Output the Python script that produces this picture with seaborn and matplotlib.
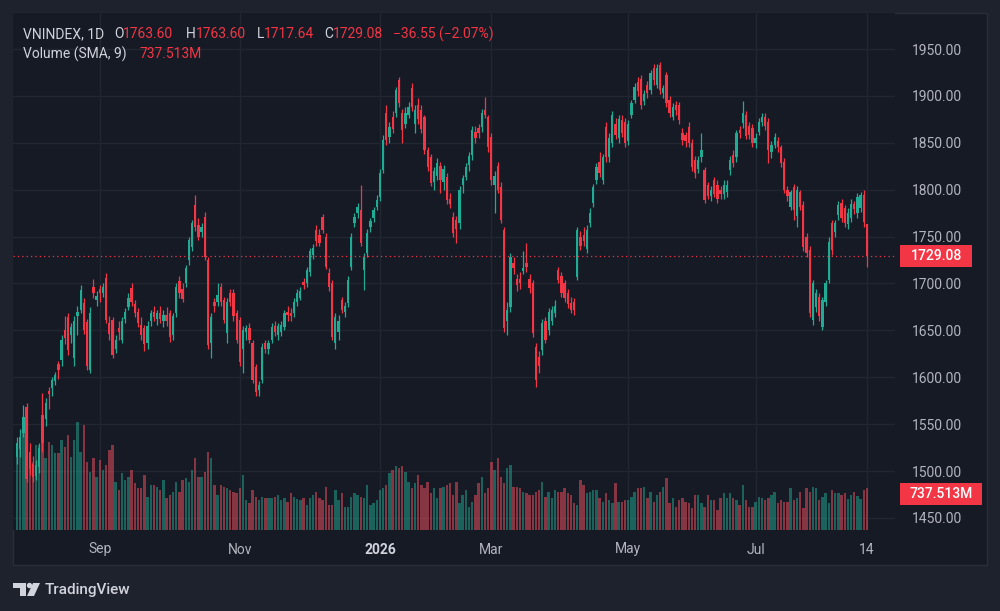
import numpy as np
import pandas as pd
import seaborn as sns
import matplotlib
matplotlib.use("Agg")
import matplotlib.pyplot as plt
from matplotlib.patches import Rectangle, Polygon, Ellipse

# ---- data (one entry per daily bar) ----
opens = [1515,1524,1541,1568,1520,1508,1495,1504,1560,1555,
         1585,1588,1596,1614,1618,1650,1664,1645,1620,1665,
         1672,1679,1659,1608,1696,1682,1694,1690,1706,1658,
         1661,1630,1652,1640,1662,1675,1695,1678,1670,1656,
         1652,1636,1660,1670,1662,1668,1660,1666,1668,1645,
         1668,1703,1694,1700,1725,1739,1784,1762,1755,1771,
         1725,1636,1680,1680,1696,1682,1647,1690,1690,1668,
         1661,1630,1648,1652,1636,1611,1586,1597,1636,1630,
         1640,1655,1645,1648,1654,1670,1668,1668,1680,1685,
         1702,1700,1712,1730,1757,1752,1771,1750,1711,1700,
         1636,1648,1682,1670,1679,1718,1764,1775,1778,1714,
         1732,1760,1770,1782,1792,1821,1882,1856,1878,1882,
         1917,1882,1870,1880,1908,1870,1890,1885,1877,1842,
         1835,1808,1815,1825,1808,1814,1790,1771,1768,1764,
         1805,1814,1826,1837,1862,1866,1867,1885,1877,1856,
         1805,1825,1803,1757,1660,1675,1722,1705,1705,1713,
         1722,1705,1700,1632,1622,1629,1660,1650,1660,1668,
         1714,1708,1700,1690,1679,1680,1707,1750,1752,1737,
         1765,1786,1810,1830,1810,1867,1835,1850,1870,1855,
         1874,1872,1852,1880,1896,1915,1918,1895,1912,1906,
         1930,1912,1933,1903,1922,1896,1878,1890,1890,1860,
         1858,1867,1850,1832,1822,1835,1821,1805,1793,1810,
         1805,1800,1795,1797,1821,1837,1835,1864,1871,1880,
         1868,1866,1850,1862,1872,1878,1872,1840,1848,1852,
         1845,1830,1800,1782,1803,1772,1797,1784,1750,1736,
         1661,1675,1686,1654,1680,1704,1764,1755,1773,1786,
         1780,1763,1770,1785,1775,1780,1794,1763.60]
highs = [1536,1545,1570,1572,1530,1516,1512,1530,1583,1578,
         1590,1600,1606,1617,1645,1665,1668,1658,1665,1676,
         1698,1685,1662,1675,1705,1692,1698,1700,1711,1665,
         1664,1645,1660,1664,1674,1690,1700,1682,1674,1664,
         1656,1660,1672,1676,1672,1676,1672,1675,1672,1668,
         1700,1708,1700,1720,1750,1768,1794,1770,1765,1776,
         1728,1668,1684,1700,1700,1686,1684,1694,1694,1672,
         1664,1655,1656,1658,1640,1614,1596,1636,1640,1640,
         1658,1660,1658,1660,1672,1676,1674,1684,1694,1696,
         1706,1718,1738,1742,1762,1758,1774,1754,1716,1704,
         1668,1666,1686,1680,1708,1754,1775,1786,1805,1732,
         1758,1770,1782,1794,1822,1858,1890,1872,1884,1910,
         1920,1886,1888,1894,1914,1890,1898,1890,1880,1846,
         1838,1824,1834,1830,1826,1818,1796,1776,1772,1804,
         1816,1828,1840,1868,1868,1870,1886,1899,1880,1860,
         1820,1830,1808,1760,1680,1732,1728,1710,1712,1735,
         1743,1710,1704,1636,1628,1662,1664,1674,1676,1682,
         1718,1712,1704,1694,1686,1684,1760,1756,1760,1762,
         1780,1806,1828,1840,1838,1872,1860,1884,1876,1880,
         1880,1876,1874,1896,1914,1920,1922,1906,1916,1928,
         1934,1934,1936,1912,1926,1900,1892,1895,1894,1866,
         1862,1872,1854,1836,1836,1860,1824,1808,1804,1814,
         1810,1804,1810,1810,1836,1842,1864,1868,1895,1884,
         1872,1870,1860,1876,1882,1882,1876,1852,1860,1856,
         1848,1834,1804,1800,1806,1804,1800,1788,1754,1740,
         1704,1694,1690,1686,1704,1750,1768,1768,1788,1790,
         1784,1780,1790,1788,1796,1798,1800,1763.60]
lows = [1508,1515,1536,1488,1496,1488,1490,1498,1520,1548,
        1566,1580,1592,1598,1612,1635,1624,1636,1612,1645,
        1668,1646,1608,1604,1685,1676,1680,1686,1658,1640,
        1620,1626,1640,1636,1658,1672,1676,1664,1654,1640,
        1628,1630,1655,1660,1656,1658,1654,1655,1638,1640,
        1664,1685,1680,1696,1720,1735,1756,1746,1750,1725,
        1630,1620,1670,1676,1676,1658,1636,1676,1660,1636,
        1612,1605,1640,1636,1594,1580,1580,1594,1626,1625,
        1636,1644,1640,1644,1650,1660,1660,1664,1676,1682,
        1694,1696,1708,1726,1740,1740,1754,1715,1692,1640,
        1630,1640,1668,1664,1675,1714,1760,1770,1740,1693,
        1728,1755,1766,1778,1788,1818,1848,1850,1860,1878,
        1888,1850,1866,1876,1884,1860,1870,1860,1838,1820,
        1804,1800,1810,1796,1800,1785,1780,1750,1743,1758,
        1796,1810,1820,1832,1850,1855,1862,1876,1840,1805,
        1775,1796,1764,1648,1645,1670,1710,1692,1694,1710,
        1712,1690,1643,1590,1605,1624,1636,1645,1656,1664,
        1700,1686,1680,1674,1668,1666,1704,1736,1740,1732,
        1760,1782,1806,1814,1806,1830,1830,1846,1854,1850,
        1856,1846,1848,1876,1892,1900,1886,1890,1898,1902,
        1912,1908,1902,1898,1888,1878,1874,1880,1870,1848,
        1846,1846,1820,1812,1818,1830,1786,1790,1788,1792,
        1786,1790,1790,1792,1816,1824,1830,1855,1866,1854,
        1854,1846,1844,1858,1868,1864,1828,1834,1844,1840,
        1824,1796,1788,1778,1768,1760,1778,1735,1728,1664,
        1656,1670,1660,1650,1676,1700,1730,1750,1768,1766,
        1760,1758,1766,1774,1770,1776,1760,1717.64]
closes = [1530,1536,1558,1492,1502,1494,1506,1525,1530,1573,
          1582,1597,1602,1608,1640,1642,1629,1654,1660,1670,
          1693,1650,1612,1669,1690,1687,1690,1696,1661,1646,
          1624,1640,1648,1660,1670,1685,1680,1668,1658,1645,
          1635,1655,1668,1664,1668,1662,1666,1660,1643,1665,
          1696,1690,1683,1717,1746,1765,1760,1750,1760,1728,
          1634,1664,1676,1688,1680,1661,1680,1680,1665,1640,
          1616,1650,1652,1640,1597,1584,1592,1632,1630,1636,
          1654,1648,1655,1656,1668,1666,1665,1680,1690,1692,
          1698,1714,1735,1738,1745,1743,1757,1718,1696,1643,
          1664,1660,1672,1676,1704,1750,1771,1782,1743,1728,
          1754,1767,1778,1789,1818,1853,1853,1867,1865,1906,
          1892,1864,1882,1888,1888,1885,1875,1865,1842,1824,
          1807,1820,1828,1810,1822,1789,1785,1754,1758,1800,
          1812,1824,1836,1864,1855,1860,1882,1880,1845,1810,
          1815,1800,1768,1652,1672,1728,1716,1698,1700,1716,
          1718,1695,1647,1597,1612,1658,1640,1670,1672,1676,
          1704,1690,1685,1678,1672,1672,1757,1740,1745,1757,
          1775,1803,1824,1818,1835,1835,1855,1880,1858,1875,
          1860,1850,1870,1892,1910,1905,1890,1902,1903,1924,
          1917,1930,1906,1908,1892,1882,1888,1885,1874,1853,
          1852,1850,1824,1818,1832,1842,1789,1793,1800,1795,
          1790,1795,1805,1805,1832,1828,1860,1860,1882,1857,
          1858,1850,1855,1872,1878,1868,1842,1848,1856,1845,
          1828,1800,1793,1797,1778,1800,1782,1739,1733,1669,
          1700,1690,1665,1682,1700,1744,1736,1764,1784,1770,
          1765,1775,1785,1779,1792,1794,1765.63,1729.08]
# volume in millions of shares
volumes = [1681,1804,2050,2255,1538,1394,1743,1743,1948,1476,
           1804,1743,1579,1579,1845,1702,1948,1497,1845,2214,
           1599,2153,1394,1189,1476,1087,1435,1230,1333,1640,
           1743,984,820,1169,1025,1087,1230,964,861,861,
           1128,677,923,923,882,820,1025,656,718,779,
           984,779,1025,1066,984,1230,1476,1087,1087,1189,
           1599,1476,923,718,923,882,861,820,779,759,
           861,1128,615,554,820,677,615,677,656,656,
           656,677,718,615,656,574,759,677,636,615,
           656,513,656,718,779,656,615,882,513,513,
           820,615,759,472,472,677,759,718,677,656,
           923,513,554,615,820,861,923,1169,1230,1312,
           1271,1312,1189,984,861,964,1128,923,861,984,
           759,861,656,861,882,923,964,718,984,554,
           718,820,472,574,718,964,1087,759,861,1394,
           1230,1476,1087,964,1271,1333,882,882,861,779,
           759,718,718,779,820,984,677,779,656,820,
           779,779,861,759,718,554,513,1025,923,759,
           779,820,820,656,574,759,615,554,964,574,
           574,615,615,677,779,861,861,882,656,779,
           574,718,779,882,1066,554,656,472,615,656,
           574,554,451,718,718,554,472,718,615,615,
           410,656,759,656,759,656,615,513,923,615,
           472,472,574,677,656,615,656,718,779,554,
           615,574,574,861,615,656,779,451,861,779,
           882,861,615,677,759,554,820,759,759,720,
           760,640,720,770,700,640,820,867.617]

tick_pos = [26, 70, 114, 149, 192, 232, 267]
tick_labels = ["Sep", "Nov", "2026", "Mar", "May", "Jul", "14"]
price_ticks = [1450, 1500, 1550, 1600, 1650, 1700, 1750, 1800, 1850, 1900, 1950]

# ---- style ----
UP, DOWN = "#22ab94", "#f23645"
BG, OUTER = "#161a25", "#1e222d"
GRID, TXT, HEAD = "#222631", "#b2b5be", "#d1d4dc"
FS = 10

sns.set_theme(style="dark", rc={"axes.facecolor": BG, "figure.facecolor": OUTER})
plt.rcParams["font.family"] = ["Roboto", "DejaVu Sans"]

df = pd.DataFrame({"idx": np.arange(len(closes)), "open": opens, "high": highs,
                   "low": lows, "close": closes, "volume": volumes})
df["dir"] = np.where(df["close"] >= df["open"], "up", "down")
colors = np.where(df["dir"] == "up", UP, DOWN)

W, H = 1000, 611
fig = plt.figure(figsize=(W / 100, H / 100), dpi=100)
fig.patch.set_facecolor(OUTER)


def px_rect(x0, y0, x1, y1):
    return [x0 / W, 1 - y1 / H, (x1 - x0) / W, (y1 - y0) / H]


fig.add_artist(Rectangle((13 / W, 1 - 565 / H), 974 / W, 552 / H, transform=fig.transFigure,
                         fc=BG, ec="#2a2e39", lw=1, zorder=-1))

pane = px_rect(13, 13, 895, 530)
step = 850 / (len(closes) - 1)
xlim = (-4 / step, len(closes) - 1 + 28 / step)
ylim = (1437.1, 1988.4)

bg = fig.add_axes(pane, label="bg")
axv = fig.add_axes(pane, label="vol")
ax = fig.add_axes(pane, label="price")

bg.set_facecolor(BG)
bg.set_xlim(xlim)
bg.set_ylim(ylim)
bg.set_xticks(tick_pos)
bg.set_yticks(price_ticks)
bg.grid(True, color=GRID, lw=1)
bg.tick_params(length=0, labelbottom=False, labelleft=False)

# volume histogram
sns.barplot(data=df, x="idx", y="volume", hue="dir", palette={"up": UP, "down": "#f7525f"},
            native_scale=True, dodge=False, width=0.75, errorbar=None, legend=False,
            saturation=1, alpha=0.5, linewidth=0, ax=axv)
axv.set_xlim(xlim)
axv.set_ylim(0, 517 * 20.5)
axv.axis("off")

# candles
ax.patch.set_alpha(0)
ax.vlines(df["idx"], df["low"], df["high"], colors=colors, lw=0.9)
body = np.maximum((df["close"] - df["open"]).abs(), 0.8)
ax.bar(df["idx"], body, bottom=df[["open", "close"]].min(axis=1), width=0.72,
       color=colors, linewidth=0)
ax.axhline(closes[-1], color=DOWN, lw=0.9, ls=(0, (1, 2.5)))
ax.set_xlim(xlim)
ax.set_ylim(ylim)
ax.yaxis.tick_right()
ax.set_yticks(price_ticks, labels=[f"{p:.2f}" for p in price_ticks])
ax.set_xticks(tick_pos, labels=tick_labels)
ax.tick_params(axis="y", length=0, pad=12, labelsize=FS, labelcolor=TXT)
ax.tick_params(axis="x", length=0, pad=9, labelsize=FS, labelcolor=TXT)
ax.get_xticklabels()[2].set_fontweight("bold")
ax.get_xticklabels()[2].set_color(HEAD)
ax.grid(False)
for a in (bg, ax):
    for s in a.spines.values():
        s.set_visible(False)


def label_box(axis, value, text, x0, x1, h=22):
    yc = axis.transData.transform((0, value))[1]
    fig.add_artist(Rectangle((x0 / W, (yc - h / 2) / H), (x1 - x0) / W, h / H,
                             transform=fig.transFigure, fc=DOWN, ec="none", zorder=5))
    fig.text((x0 + x1) / 2 / W, yc / H, text, ha="center", va="center",
             color="white", fontsize=FS, fontweight="medium", zorder=6)


sma9 = np.mean(volumes[-9:])
label_box(ax, closes[-1], f"{closes[-1]:.2f}", 900, 972)
label_box(axv, sma9, f"{sma9:.3f}M", 900, 982)

# header legend
chg = closes[-1] - closes[-2]
pct = chg / closes[-2] * 100
runs1 = [(23, "VNINDEX, 1D", HEAD), (114, "O", HEAD), (123, f"{opens[-1]:.2f}", DOWN),
         (186, "H", HEAD), (196, f"{highs[-1]:.2f}", DOWN), (257, "L", HEAD),
         (264, f"{lows[-1]:.2f}", DOWN), (324, "C", HEAD), (333, f"{closes[-1]:.2f}", DOWN),
         (393, f"{chg:.2f} ({pct:.2f}%)".replace("-", "\u2212"), DOWN)]
for x, t, c in runs1:
    fig.text(x / W, 1 - 34 / H, t, color=c, fontsize=FS, va="center")
fig.text(23 / W, 1 - 54 / H, "Volume (SMA, 9)", color=HEAD, fontsize=FS, va="center")
fig.text(140 / W, 1 - 54 / H, f"{sma9:.3f}M", color=DOWN, fontsize=FS, va="center")

# TradingView mark
def P(x, y):
    return (x / W, 1 - y / H)


LOGO = "#d1d4dc"
fig.add_artist(Polygon([P(13, 583), P(26, 583), P(26, 596), P(20, 596), P(20, 588), P(13, 588)],
                       closed=True, transform=fig.transFigure, fc=LOGO, ec="none"))
fig.add_artist(Ellipse(P(29.5, 585.5), 5.4 / W, 5.4 / H, transform=fig.transFigure, fc=LOGO, ec="none"))
fig.add_artist(Polygon([P(33, 583), P(40, 583), P(34, 596), P(27, 596)],
                       closed=True, transform=fig.transFigure, fc=LOGO, ec="none"))
fig.text(45 / W, 1 - 590 / H, "TradingView", color=LOGO, fontsize=11, fontweight="medium", va="center")

fig.savefig("out.png", dpi=100, facecolor=OUTER)
